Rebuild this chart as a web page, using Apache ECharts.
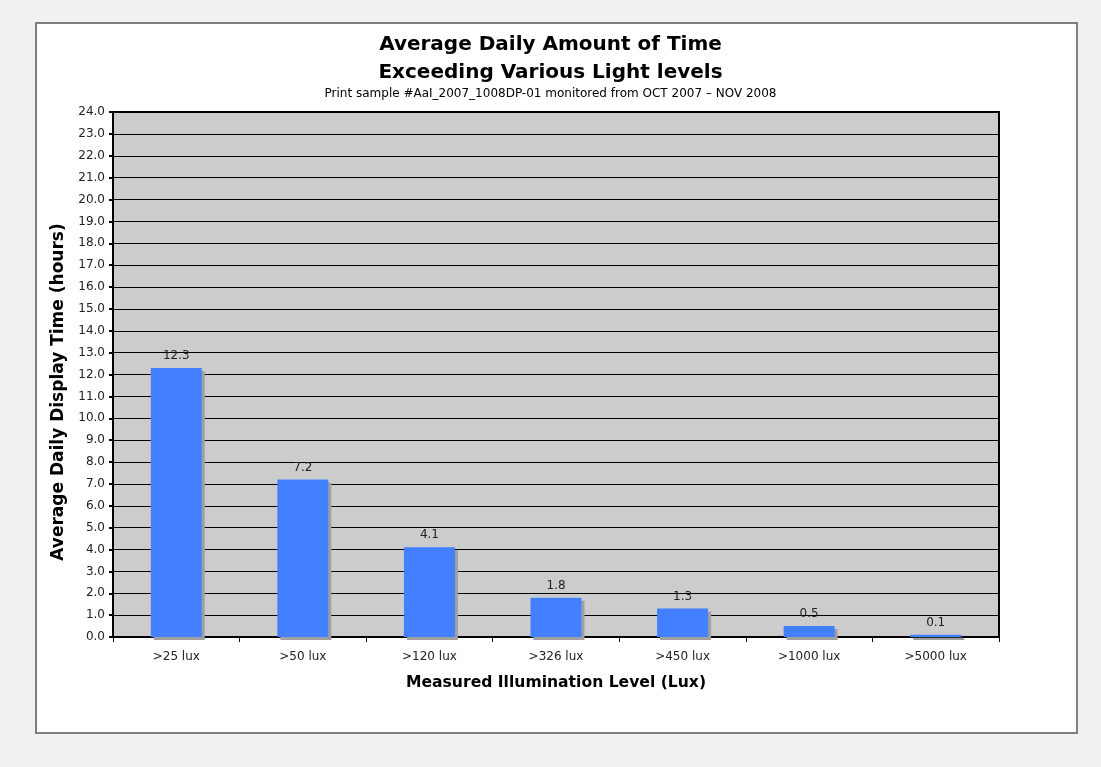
<!DOCTYPE html>
<html>
<head>
<meta charset="utf-8">
<script src="https://cdn.jsdelivr.net/npm/echarts@6/dist/echarts.min.js"></script>
<style>
html,body{margin:0;padding:0;background:#f1f1f1;}
#c{width:1101px;height:767px;}
</style>
</head>
<body>
<div id="c"></div>
<script>
var categories = ['>25 lux', '>50 lux', '>120 lux', '>326 lux', '>450 lux', '>1000 lux', '>5000 lux'];
var hours = [12.3, 7.2, 4.1, 1.8, 1.3, 0.5, 0.1];
var titleText = 'Average Daily Amount of Time\nExceeding Various Light levels';
var subText = 'Print sample #AaI_2007_1008DP-01 monitored from OCT 2007 \u2013 NOV 2008';
var yName = 'Average Daily Display Time (hours)';
var xName = 'Measured Illumination Level (Lux)';

var FONT = 'DejaVu Sans, Verdana, sans-serif';
var chart = echarts.init(document.getElementById('c'));
chart.setOption({
  backgroundColor: '#f1f1f1',
  animation: false,
  textStyle: {fontFamily: FONT},
  graphic: [{
    type: 'rect', z: -10, silent: true,
    shape: {x: 36, y: 23, width: 1041, height: 710},
    style: {fill: '#ffffff', stroke: '#7f7f7f', lineWidth: 2}
  }, {
    type: 'text', silent: true,
    x: 59, y: 392, rotation: Math.PI / 2,
    style: {text: yName, fontFamily: FONT, fontSize: 17, fontWeight: 'bold', fill: '#000',
      align: 'center', verticalAlign: 'middle'}
  }],
  title: {
    text: titleText,
    subtext: subText,
    left: 'center',
    top: 26,
    itemGap: 1,
    textStyle: {fontFamily: FONT, fontSize: 20, fontWeight: 'bold', color: '#000', lineHeight: 28},
    subtextStyle: {fontFamily: FONT, fontSize: 12, color: '#000'}
  },
  grid: {
    left: 113, right: 102, top: 112, bottom: 130,
    show: true, backgroundColor: '#cccccc', borderColor: '#000', borderWidth: 2,
    containLabel: false
  },
  xAxis: {
    type: 'category',
    data: categories,
    name: xName,
    nameLocation: 'middle',
    nameGap: 38,
    nameTextStyle: {fontFamily: FONT, fontSize: 15.6, fontWeight: 'bold', color: '#000'},
    axisLine: {lineStyle: {color: '#000', width: 2}},
    axisTick: {show: true, alignWithLabel: false, length: 5, lineStyle: {color: '#000', width: 1}},
    axisLabel: {fontFamily: FONT, fontSize: 12, color: '#222', margin: 14}
  },
  yAxis: {
    type: 'value',
    min: 0, max: 24, interval: 1,
    axisLine: {show: true, lineStyle: {color: '#000', width: 2}},
    axisTick: {show: true, length: 4, lineStyle: {color: '#000', width: 2}},
    axisLabel: {fontFamily: FONT, fontSize: 12, color: '#222', margin: 8,
      formatter: function (v) { return v.toFixed(1); }},
    splitLine: {show: true, lineStyle: {color: '#000', width: 1}}
  },
  series: [{
    type: 'bar',
    data: hours,
    barWidth: 51,
    itemStyle: {
      color: '#4280ff',
      shadowColor: '#a0a0a0', shadowBlur: 0, shadowOffsetX: 3, shadowOffsetY: 3
    },
    label: {
      show: true, position: 'top', distance: 6,
      fontFamily: FONT, fontSize: 12, color: '#222',
      formatter: function (p) { return p.value.toFixed(1); }
    }
  }]
});
</script>
</body>
</html>
